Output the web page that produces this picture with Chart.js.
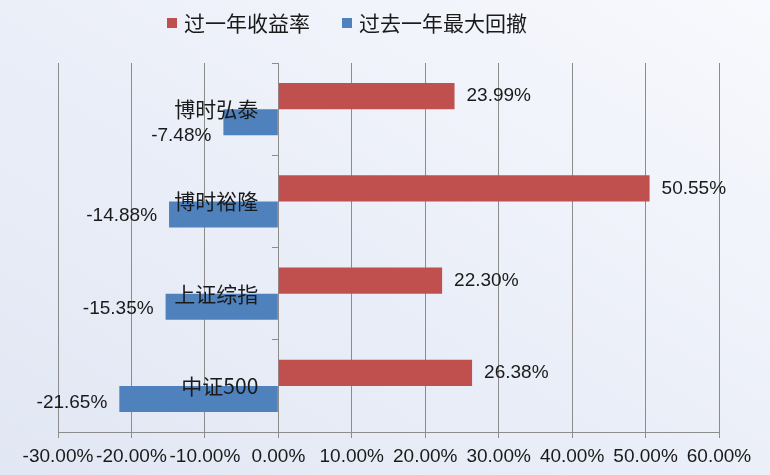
<!DOCTYPE html>
<html>
<head>
<meta charset="utf-8">
<script src="https://cdn.jsdelivr.net/npm/chart.js@4/dist/chart.umd.min.js"></script>
<style>
  html, body { margin: 0; padding: 0; }
  #wrap {
    width: 770px; height: 475px;
    background: linear-gradient(to top right, #e1e7f3 0%, #eaeef8 45%, #f8f9fd 100%);
  }
</style>
</head>
<body>
<div id="wrap"><canvas id="fundChart" width="770" height="475"></canvas></div>
<script>
// chart data
const categories = ['博时弘泰', '博时裕隆', '上证综指', '中证500'];
const returnLabel = '过一年收益率';
const drawdownLabel = '过去一年最大回撤';
const returnValues = [23.99, 50.55, 22.30, 26.38];
const drawdownValues = [-7.48, -14.88, -15.35, -21.65];
const xTickLabels = ['-30.00%', '-20.00%', '-10.00%', '0.00%', '10.00%', '20.00%',
  '30.00%', '40.00%', '50.00%', '60.00%'];

const RED = '#c0504d';
const BLUE = '#4f81bd';
const GRID = '#8c8c8c';
const NUM_FONT = '"Liberation Sans", Arial, sans-serif';
const CJK_FONT = '"Noto Sans CJK SC", "Noto Sans", sans-serif';

// value labels next to the bar ends
const barValueLabels = {
  id: 'barValueLabels',
  afterDatasetsDraw(chart, args, opts) {
    const ctx = chart.ctx;
    ctx.save();
    ctx.font = '19px ' + NUM_FONT;
    ctx.fillStyle = '#1a1a1a';
    ctx.textBaseline = 'middle';
    chart.data.datasets.forEach((ds, di) => {
      const meta = chart.getDatasetMeta(di);
      meta.data.forEach((bar, i) => {
        const v = ds.data[i];
        const shift = (opts.shiftY[di] || [])[i] || 0;
        ctx.textAlign = v >= 0 ? 'left' : 'right';
        const x = v >= 0 ? bar.x + 12 : bar.x - 12;
        ctx.fillText(v.toFixed(2) + '%', x, bar.y + shift);
      });
    });
    ctx.restore();
  }
};

// category names sit next to the zero line, on top of the bars
const categoryNames = {
  id: 'categoryNames',
  afterDatasetsDraw(chart, args, opts) {
    const ctx = chart.ctx;
    const yScale = chart.scales.y;
    const x0 = chart.scales.x.getPixelForValue(0);
    ctx.save();
    ctx.font = '21px ' + CJK_FONT;
    ctx.fillStyle = '#1a1a1a';
    ctx.textAlign = 'right';
    ctx.textBaseline = 'middle';
    yScale.getLabels().forEach((name, i) => {
      ctx.fillText(name, x0 - opts.gap, yScale.getPixelForTick(i));
    });
    ctx.restore();
  }
};

// legend drawn at the top (offset left of centre like the original)
const topLegend = {
  id: 'topLegend',
  afterDraw(chart, args, opts) {
    const ctx = chart.ctx;
    ctx.save();
    ctx.font = '21px ' + CJK_FONT;
    ctx.textBaseline = 'middle';
    ctx.textAlign = 'left';
    let x = opts.x;
    chart.data.datasets.forEach(ds => {
      ctx.fillStyle = ds.backgroundColor;
      ctx.fillRect(x, opts.y - 5, 10, 10);
      ctx.fillStyle = '#1a1a1a';
      ctx.fillText(ds.label, x + 17, opts.y);
      x += 17 + ctx.measureText(ds.label).width + 32;
    });
    ctx.restore();
  }
};

const ctx = document.getElementById('fundChart').getContext('2d');
const fundChart = new Chart(ctx, {
  type: 'bar',
  data: {
    labels: categories,
    datasets: [
      {
        label: returnLabel,
        data: returnValues,
        backgroundColor: RED,
        categoryPercentage: 0.565,
        barPercentage: 1.0,
      },
      {
        label: drawdownLabel,
        data: drawdownValues,
        backgroundColor: BLUE,
        categoryPercentage: 0.565,
        barPercentage: 1.0,
      },
    ],
  },
  options: {
    indexAxis: 'y',
    responsive: false,
    animation: false,
    layout: {
      padding: { left: 58, right: 51, top: 63, bottom: 0 },
    },
    scales: {
      x: {
        min: -30,
        max: 60,
        ticks: {
          stepSize: 10,
          padding: 7,
          color: '#1a1a1a',
          font: { family: NUM_FONT, size: 19 },
          maxRotation: 0,
          autoSkip: false,
          callback: (value, index) => xTickLabels[index],
        },
        grid: { color: GRID, lineWidth: 1, tickLength: 6 },
        border: { display: true, color: GRID },
        afterFit: scale => { scale.height = 43; },
      },
      y: {
        position: { x: 0 },
        ticks: { display: false },
        grid: { drawOnChartArea: false, tickLength: 6, color: GRID, offset: true },
        border: { display: true, color: GRID },
      },
    },
    plugins: {
      legend: { display: false },
      tooltip: { enabled: false },
      barValueLabels: { shiftY: [[0, 0, 0, 0], [14, 1, 2, 4]] },
      categoryNames: { gap: 20 },
      topLegend: { x: 167, y: 23 },
    },
  },
  plugins: [barValueLabels, categoryNames, topLegend],
});
</script>
</body>
</html>
